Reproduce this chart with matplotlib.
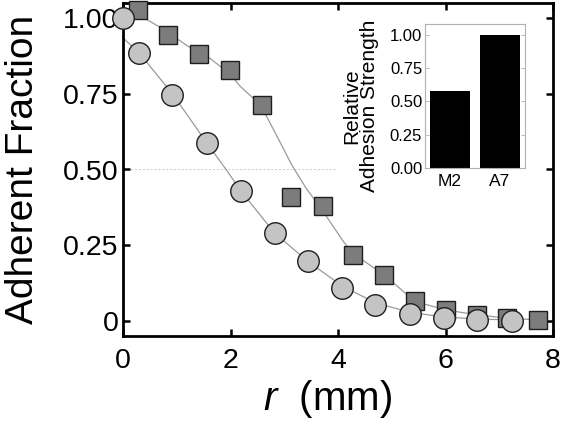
import matplotlib
matplotlib.use('Agg')
import matplotlib.pyplot as plt

plt.rcParams['font.family'] = ['Liberation Sans', 'DejaVu Sans']
plt.rcParams['mathtext.fontset'] = 'custom'
plt.rcParams['mathtext.it'] = 'Liberation Sans:italic'
plt.rcParams['mathtext.rm'] = 'Liberation Sans'

# dados
r_circ = [0.0, 0.30, 0.92, 1.57, 2.19, 2.82, 3.45, 4.08, 4.69, 5.34, 5.97, 6.59, 7.23]
f_circ = [1.00, 0.886, 0.746, 0.586, 0.429, 0.289, 0.198, 0.110, 0.053, 0.022, 0.011, 0.003, 0.001]

r_sq = [0.285, 0.84, 1.41, 1.99, 2.58, 3.13, 3.72, 4.28, 4.86, 5.43, 6.01, 6.58, 7.15, 7.73]
f_sq = [1.026, 0.944, 0.881, 0.828, 0.713, 0.408, 0.380, 0.218, 0.152, 0.064, 0.036, 0.020, 0.009, 0.003]

# curvas ajustadas (lidas ponto a ponto)
fit_r_circ = [0.0, 0.30, 0.92, 1.57, 1.93, 2.19, 2.82, 3.45, 4.08, 4.69, 5.34, 5.97, 6.59, 7.23]
fit_f_circ = [0.935, 0.885, 0.75, 0.585, 0.497, 0.43, 0.29, 0.195, 0.115, 0.06, 0.028, 0.013, 0.006, 0.003]

fit_r_sq = [0.30, 0.69, 1.22, 1.62, 1.99, 2.18, 2.56, 2.85, 3.14, 3.40, 3.71, 4.10, 4.28, 4.86, 5.43, 6.01, 6.58, 7.15, 7.73]
fit_f_sq = [1.01, 0.97, 0.906, 0.867, 0.815, 0.775, 0.713, 0.615, 0.515, 0.44, 0.365, 0.262, 0.222, 0.152, 0.064, 0.036, 0.02, 0.009, 0.003]

# inset
cells = ['M2', 'A7']
strength = [0.58, 1.00]

fig = plt.figure(figsize=(5.62, 4.26), dpi=100)
ax = fig.add_axes([123/562, 1 - 336/426, 430/562, 333/426])

ax.plot([0, 3.95], [0.5, 0.5], ls=(0, (2, 2)), color='#c8c8c8', lw=0.7, zorder=1)
ax.plot(fit_r_circ, fit_f_circ, color='#9a9a9a', lw=0.9, zorder=2)
ax.plot(fit_r_sq, fit_f_sq, color='#9a9a9a', lw=0.9, zorder=2)
ax.plot(r_sq, f_sq, 's', ms=13.5, mfc='#7c7c7c', mec='#1e1e1e', mew=1.0, zorder=3, clip_on=False)
ax.plot(r_circ, f_circ, 'o', ms=15.5, mfc='#c4c4c4', mec='#1e1e1e', mew=1.0, zorder=4, clip_on=False)

ax.set_xlim(0, 8)
ax.set_ylim(-0.05, 1.05)
ax.set_xticks([0, 2, 4, 6, 8])
ax.set_yticks([0, 0.25, 0.5, 0.75, 1.0])
ax.set_yticklabels(['0', '0.25', '0.50', '0.75', '1.00'])
for s in ax.spines.values():
    s.set_linewidth(2)
ax.tick_params(direction='in', length=5, width=1.8, top=True, right=True, labelsize=20.5)
ax.tick_params(axis='x', pad=9)
ax.tick_params(axis='y', pad=3)

ax.set_ylabel('Adherent Fraction', fontsize=28, va='center')
ax.yaxis.set_label_coords(-0.232, 0.5015)
ax.set_xlabel(r'$r$  (mm)', fontsize=29, va='baseline')
ax.xaxis.set_label_coords(0.4756, -0.222)

# inset com barras
ins = fig.add_axes([425/562, 1 - 168/426, 100/562, 144/426])
ins.bar(range(len(cells)), strength, width=0.8, color='black')
ins.set_xlim(-0.5, 1.5)
ins.set_ylim(0, 1.08)
ins.set_xticks(range(len(cells)))
ins.set_xticklabels(cells)
ins.set_yticks([0, 0.25, 0.5, 0.75, 1.0])
ins.set_yticklabels(['0.00', '0.25', '0.50', '0.75', '1.00'])
for s in ins.spines.values():
    s.set_linewidth(0.8)
    s.set_color('#b0b0b0')
ins.tick_params(direction='in', length=3, width=0.6, color='#b0b0b0', right=True, labelsize=12, pad=2)
ins.tick_params(axis='x', length=0, pad=4, labelsize=12.5)
ins.set_ylabel('Relative\nAdhesion Strength', fontsize=15, linespacing=0.95, va='center')
ins.yaxis.set_label_coords(-0.645, 0.43)

fig.savefig('out.png', dpi=100)
